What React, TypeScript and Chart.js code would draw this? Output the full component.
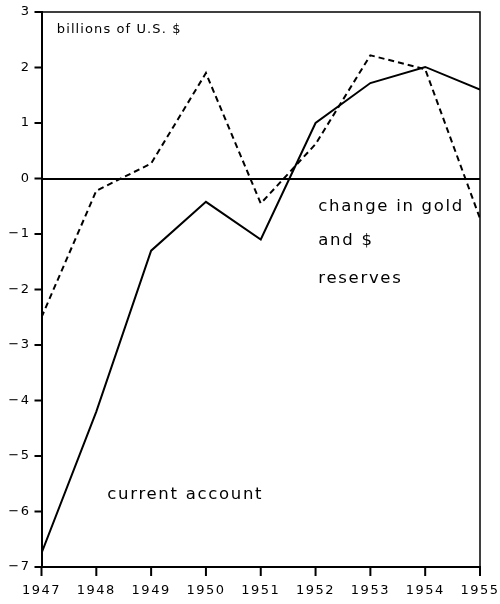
import React, { useEffect, useRef } from "react";
import { Chart, registerables } from "chart.js";

Chart.register(...registerables);

const years = [1947, 1948, 1949, 1950, 1951, 1952, 1953, 1954, 1955];
const currentAccount = [-6.75, -4.2, -1.3, -0.42, -1.1, 1.0, 1.72, 2.01, 1.6];
const goldReserves = [-2.5, -0.22, 0.27, 1.9, -0.45, 0.62, 2.22, 1.97, -0.72];
const yTicks = [-7, -6, -5, -4, -3, -2, -1, 0, 1, 2, 3];

const unitLabel = "billions of U.S. $";
const currentLabel = "current account";
const reservesLabel = ["change in gold", "and $", "reserves"];

const FONT = '"DejaVu Sans", sans-serif';

export default function App() {
  const ref = useRef<HTMLCanvasElement | null>(null);

  useEffect(() => {
    const canvas = ref.current;
    if (!canvas) return;

    const framePlugin = {
      id: "frameAndText",
      beforeDraw(chart: any) {
        (chart.ctx as any).letterSpacing = "1.5px";
      },
      afterDraw(chart: any) {
        const { ctx, chartArea, scales } = chart;
        const x = scales.x;
        const y = scales.y;
        ctx.save();
        (ctx as any).setLineDash([]);
        ctx.strokeStyle = "#000";
        ctx.lineWidth = 1.5;
        ctx.beginPath();
        ctx.moveTo(chartArea.left, chartArea.top);
        ctx.lineTo(chartArea.right, chartArea.top);
        ctx.lineTo(chartArea.right, chartArea.bottom);
        ctx.stroke();

        // tick marks
        ctx.lineWidth = 2;
        ctx.beginPath();
        y.ticks.forEach((t: any) => {
          const py = y.getPixelForValue(t.value);
          ctx.moveTo(chartArea.left - 7, py);
          ctx.lineTo(chartArea.left, py);
        });
        x.ticks.forEach((t: any) => {
          const px = x.getPixelForValue(t.value);
          ctx.moveTo(px, chartArea.bottom);
          ctx.lineTo(px, chartArea.bottom + 9);
        });
        ctx.stroke();

        ctx.fillStyle = "#000";
        ctx.textAlign = "left";
        ctx.textBaseline = "middle";
        (ctx as any).letterSpacing = "1.1px";
        ctx.font = `13px ${FONT}`;
        ctx.fillText(unitLabel, x.getPixelForValue(1947.28), y.getPixelForValue(2.69));

        (ctx as any).letterSpacing = "1.7px";
        ctx.font = `16.5px ${FONT}`;
        ctx.fillText(currentLabel, x.getPixelForValue(1948.2), y.getPixelForValue(-5.7));
        const ys = [-0.51, -1.13, -1.81];
        reservesLabel.forEach((t, i) => {
          ctx.fillText(t, x.getPixelForValue(1952.05), y.getPixelForValue(ys[i]));
        });
        ctx.restore();
      },
    };

    const chart = new Chart(canvas, {
      type: "line",
      data: {
        datasets: [
          {
            label: "current account",
            data: years.map((yr, i) => ({ x: yr, y: currentAccount[i] })),
            borderColor: "#000",
            borderWidth: 2,
            pointRadius: 0,
            tension: 0,
            fill: false,
          },
          {
            label: "change in gold and $ reserves",
            data: years.map((yr, i) => ({ x: yr, y: goldReserves[i] })),
            borderColor: "#000",
            borderWidth: 2,
            borderDash: [6, 4],
            pointRadius: 0,
            tension: 0,
            fill: false,
          },
        ],
      },
      options: {
        animation: false,
        responsive: false,
        events: [],
        layout: { padding: { top: 12, right: 20, left: 0, bottom: 0 } },
        plugins: {
          legend: { display: false },
          tooltip: { enabled: false },
        },
        scales: {
          x: {
            type: "linear",
            min: 1947,
            max: 1955,
            afterFit(scale: any) {
              scale.height = 37;
              scale.paddingLeft = 0;
              scale.paddingRight = 0;
            },
            ticks: {
              stepSize: 1,
              autoSkip: false,
              maxRotation: 0,
              color: "#000",
              padding: 16,
              font: { family: FONT, size: 13 },
              callback: (v: any) => String(v),
            },
            grid: {
              display: false,
              drawOnChartArea: false,
              drawTicks: false,
            },
            border: { display: true, color: "#000", width: 2 },
          },
          y: {
            type: "linear",
            min: -7,
            max: 3,
            afterFit(scale: any) {
              scale.width = 41.5;
              scale.paddingTop = 0;
              scale.paddingBottom = 0;
            },
            afterBuildTicks(scale: any) {
              scale.ticks = yTicks.map((v) => ({ value: v }));
            },
            ticks: {
              color: "#000",
              padding: 11,
              font: { family: FONT, size: 13 },
              callback: (v: any) => (v < 0 ? "\u2212" + Math.abs(v) : String(v)),
            },
            grid: {
              drawOnChartArea: true,
              drawTicks: false,
              lineWidth: 2,
              color: (c: any) => (c.tick && c.tick.value === 0 ? "#000" : "rgba(0,0,0,0)"),
            },
            border: { display: true, color: "#000", width: 2 },
          },
        },
      },
      plugins: [framePlugin],
    });

    return () => chart.destroy();
  }, []);

  return (
    <div style={{ position: "fixed", left: 0, top: 0, width: 500, height: 604, background: "#fff" }}>
      <canvas ref={ref} width={500} height={604} />
    </div>
  );
}
